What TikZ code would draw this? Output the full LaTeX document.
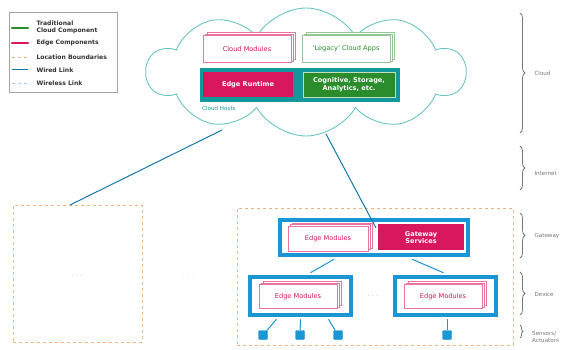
\documentclass[tikz,border=0pt]{standalone}
\usepackage{fontspec}
\setmainfont{DejaVu Sans}
\usetikzlibrary{shapes.symbols,shadows,decorations.pathreplacing,calc}
\definecolor{pinkc}{HTML}{D9175F}
\definecolor{greenc}{HTML}{2A8C2A}
\definecolor{tealc}{HTML}{12989A}
\definecolor{bluec}{HTML}{1A96D4}
\definecolor{cloudc}{HTML}{6CC3C3}
\definecolor{orangec}{HTML}{F2B27C}
\definecolor{grayc}{HTML}{777777}
\definecolor{wlc}{HTML}{9ED8E8}
\tikzset{
  boxfont/.style={font=\fontsize{6.6}{7.6}\selectfont},
  stackpink/.style={draw=pinkc!60, fill=white, line width=0.5pt, text=pinkc, boxfont,
    double copy shadow={shadow xshift=2pt, shadow yshift=1.5pt, draw=pinkc!60, fill=white}},
  stackgreen/.style={draw=greenc!50, fill=white, line width=0.5pt, text=greenc, boxfont,
    double copy shadow={shadow xshift=2pt, shadow yshift=1.5pt, draw=greenc!50, fill=white}},
  filledbox/.style={inner sep=0pt, text=white, font=\fontsize{6.6}{7.8}\selectfont\bfseries, align=center},
  frame/.style={draw=bluec, line width=4.5pt, fill=white},
  locbox/.style={draw=orangec, dashed, line width=0.7pt},
  wired/.style={draw=bluec!80!black, line width=1pt},
  lvl/.style={decorate, decoration={brace, amplitude=5pt}, draw=grayc, line width=0.8pt},
  lvltext/.style={text=grayc, font=\fontsize{5.6}{6.6}\selectfont, anchor=west, align=left},
  sensor/.style={fill=bluec, draw=bluec, rounded corners=1pt, minimum size=9pt, inner sep=0pt},
  dots/.style={text=grayc, font=\fontsize{7}{7}\selectfont},
  legtext/.style={font=\fontsize{6.1}{6.8}\selectfont\bfseries, anchor=west, text=black!80},
}
\begin{document}
\begin{tikzpicture}[x=1pt,y=-1pt]
\useasboundingbox (0,0) rectangle (579,350);
% legend
\node[draw=black!35, line width=0.5pt, minimum width=108pt, minimum height=80pt, inner sep=0pt] (legend) at (63,52) {};
\coordinate (l1a) at (12,28); \coordinate (l1b) at (28,28);
\draw[greenc, line width=2.5pt, line cap=round] (l1a) -- (l1b);
\node[legtext, align=left] (t1) at (33,27) {Traditional\\Cloud Component};
\coordinate (l2a) at (12,43); \coordinate (l2b) at (28,43);
\draw[pinkc, line width=2.5pt, line cap=round] (l2a) -- (l2b);
\node[legtext] (t2) at (33,43) {Edge Components};
\coordinate (l3a) at (12,57); \coordinate (l3b) at (28,57);
\draw[orangec, dashed, line width=0.7pt] (l3a) -- (l3b);
\node[legtext] (t3) at (33,57) {Location Boundaries};
\coordinate (l4a) at (12,70); \coordinate (l4b) at (28,70);
\draw[wired] (l4a) -- (l4b);
\node[legtext] (t4) at (33,70) {Wired Link};
\coordinate (l5a) at (12,83); \coordinate (l5b) at (28,83);
\draw[wlc, dashed, line width=0.8pt] (l5a) -- (l5b);
\node[legtext] (t5) at (33,83) {Wireless Link};

% cloud
\node[cloud, cloud puffs=10, cloud puff arc=120, cloud ignores aspect, draw=cloudc, line width=0.9pt,
  minimum width=318pt, minimum height=128pt, inner sep=0pt] (cloud) at (306,72) {};
\node[stackpink, minimum width=88pt, minimum height=27pt] (cm) at (247,49) {Cloud Modules};
\node[stackgreen, minimum width=88pt, minimum height=27pt] (la) at (346,49) {`Legacy' Cloud Apps};
\node[fill=tealc, minimum width=200pt, minimum height=34pt, inner sep=0pt] (host) at (300,85) {};
\node[filledbox, fill=pinkc, minimum width=90pt, minimum height=25pt] (er) at (248,84.5) {Edge Runtime};
\node[filledbox, fill=greenc, draw=white!70!greenc, line width=0.4pt, minimum width=92pt, minimum height=25pt] (cog) at (349,84.5) {Cognitive, Storage,\\Analytics, etc.};
\node[font=\fontsize{5.6}{6.6}\selectfont, text=tealc, anchor=west, inner sep=0pt] (ch) at (202,108) {Cloud Hosts};

% location boxes
\node[locbox, minimum width=129pt, minimum height=137pt, inner sep=0pt] (locL) at (77.5,273.5) {};
\node[dots] (d1) at (77,276) {$\cdot\cdot\cdot$};
\node[dots, text=orangec] (d2) at (188,276) {$\cdot\cdot\cdot$};
\node[locbox, minimum width=276pt, minimum height=137pt, inner sep=0pt] (locR) at (375,276.5) {};

% gateway
\node[frame, minimum width=188pt, minimum height=35pt, inner sep=0pt] (gw) at (374,237.5) {};
\node[stackpink, minimum width=80pt, minimum height=25pt, inner sep=0pt] (gem) at (328,238.5) {Edge Modules};
\node[filledbox, fill=pinkc, minimum width=86pt, minimum height=26pt] (gs) at (421,237.5) {Gateway\\Services};

% devices
\node[frame, minimum width=101pt, minimum height=38pt, inner sep=0pt] (dv1) at (300.5,296) {};
\node[stackpink, minimum width=78pt, minimum height=24pt, inner sep=0pt] (em1) at (298,296.5) {Edge Modules};
\node[frame, minimum width=101pt, minimum height=38pt, inner sep=0pt] (dv2) at (445.5,296) {};
\node[stackpink, minimum width=78pt, minimum height=24pt, inner sep=0pt] (em2) at (443,296.5) {Edge Modules};
\node[dots, text=bluec] (d3) at (373,296) {$\cdot\cdot\cdot$};

% sensors
\node[sensor] (s1) at (263,335) {};
\node[sensor] (s2) at (300,335) {};
\node[sensor] (s3) at (338,335) {};
\node[sensor] (s4) at (447,335) {};

% links
\coordinate (c1) at (222,130);
\coordinate (lt) at (70,205);
\draw[wired] (c1) -- (lt);
\coordinate (c2) at (326,134);
\coordinate (gt) at (376,228);
\draw[wired] (c2) -- (gt);
\draw[wired, bluec] ($(gw.south)+(-40,2)$) -- ($(dv1.north)+(10,-2)$);
\draw[wired, bluec] ($(gw.south)+(38,2)$) -- ($(dv2.north)+(-2,-2)$);
\draw[wired, bluec] ($(dv1.south)+(-24,2)$) -- (s1);
\draw[wired, bluec] ($(dv1.south)+(0,2)$) -- (s2);
\draw[wired, bluec] ($(dv1.south)+(28,2)$) -- (s3);
\draw[wired, bluec] ($(dv2.south)+(1.5,2)$) -- (s4);

% levels
\coordinate (b1a) at (520,13); \coordinate (b1b) at (520,133);
\draw[lvl] (b1a) -- (b1b);
\node[lvltext] (L1) at (531,73) {Cloud};
\coordinate (b2a) at (520,146); \coordinate (b2b) at (520,190);
\draw[lvl] (b2a) -- (b2b);
\node[lvltext] (L2) at (531,173) {Internet};
\coordinate (b3a) at (520,213); \coordinate (b3b) at (520,258);
\draw[lvl] (b3a) -- (b3b);
\node[lvltext] (L3) at (531,236) {Gateway};
\coordinate (b4a) at (520,272); \coordinate (b4b) at (520,315);
\draw[lvl] (b4a) -- (b4b);
\node[lvltext] (L4) at (531,294) {Device};
\coordinate (b5a) at (520,325); \coordinate (b5b) at (520,338);
\draw[lvl, decoration={brace, amplitude=3pt}] (b5a) -- (b5b);
\node[lvltext, inner sep=1pt] (L5) at (531,337) {Sensors/\\Actuators};
\end{tikzpicture}
\end{document}
